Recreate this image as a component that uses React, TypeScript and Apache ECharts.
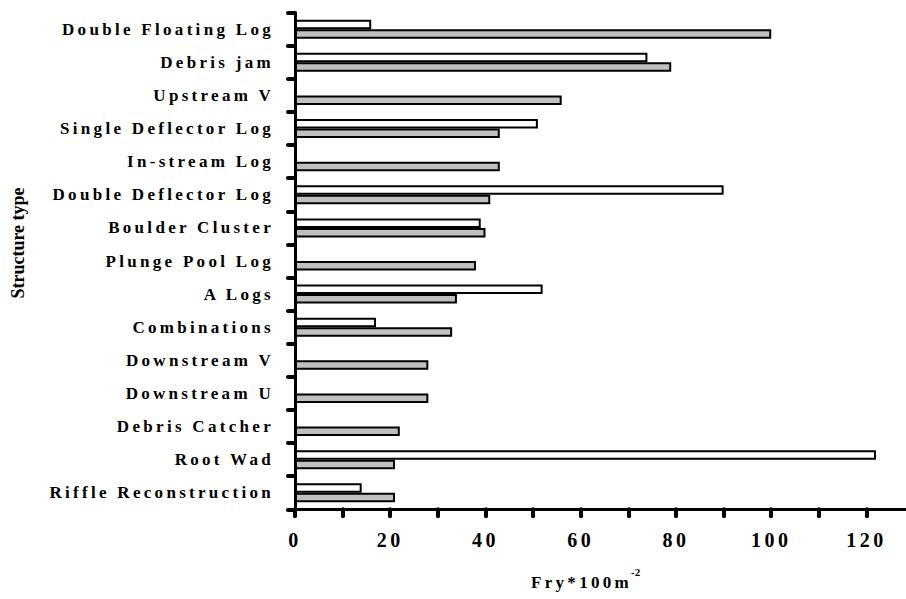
import React, { useEffect, useRef } from "react";
import * as echarts from "echarts";

const categories = [
  "Double Floating Log",
  "Debris jam",
  "Upstream V",
  "Single Deflector Log",
  "In-stream Log",
  "Double Deflector Log",
  "Boulder Cluster",
  "Plunge Pool Log",
  "A Logs",
  "Combinations",
  "Downstream V",
  "Downstream U",
  "Debris Catcher",
  "Root Wad",
  "Riffle Reconstruction",
];

const whiteValues: (number | null)[] = [16, 74, null, 51, null, 90, 39, null, 52, 17, null, null, null, 122, 14];
const greyValues: (number | null)[] = [100, 79, 56, 43, 43, 41, 40, 38, 34, 33, 28, 28, 22, 21, 21];

const xTickLabels = [0, 20, 40, 60, 80, 100, 120];

const FONT = "Liberation Serif";

export default function App() {
  const ref = useRef<HTMLDivElement>(null);
  useEffect(() => {
    if (!ref.current) return;
    const chart = echarts.init(ref.current, null, { renderer: "svg" });
    const option: any = {
      animation: false,
      backgroundColor: "#ffffff",
      grid: { left: 295, top: 12.7, width: 611, height: 496.6, containLabel: false },
      xAxis: {
        type: "value",
        min: 0,
        max: 128.3,
        interval: 10,
        axisLine: { show: true, lineStyle: { color: "#000", width: 3, cap: "round" } },
        axisTick: { show: true, length: 7, lineStyle: { color: "#000", width: 4, cap: "round" } },
        splitLine: { show: false },
        axisLabel: {
          margin: 21,
          color: "#000",
          fontFamily: FONT,
          fontWeight: "bold",
          fontSize: 20,
          showMaxLabel: false,
          formatter: (v: number) => (xTickLabels.indexOf(v) >= 0 ? String(v) : ""),
        },
      },
      yAxis: {
        type: "category",
        inverse: true,
        data: categories,
        axisLine: { show: true, lineStyle: { color: "#000", width: 3, cap: "round" } },
        axisTick: { show: true, length: 7, lineStyle: { color: "#000", width: 4, cap: "round" } },
        axisLabel: {
          margin: 21,
          color: "#000",
          fontFamily: FONT,
          fontWeight: "bold",
          fontSize: 17,
        },
      },
      graphic: [
        {
          type: "text",
          x: 18,
          y: 243,
          rotation: Math.PI / 2,
          style: {
            text: "Structure type",
            fill: "#000",
            fontFamily: FONT,
            fontWeight: "bold",
            fontSize: 18,
            align: "center",
            verticalAlign: "middle",
          },
        },
        {
          type: "text",
          x: 531,
          y: 582,
          style: {
            text: "Fry*100m",
            fill: "#000",
            fontFamily: FONT,
            fontWeight: "bold",
            fontSize: 17,
            align: "left",
            verticalAlign: "middle",
          },
        },
        {
          type: "text",
          x: 631,
          y: 572,
          style: {
            text: "-2",
            fill: "#000",
            fontFamily: FONT,
            fontWeight: "bold",
            fontSize: 11,
            align: "left",
            verticalAlign: "middle",
          },
        },
      ],
      series: [
        {
          type: "bar",
          name: "white",
          data: whiteValues,
          barWidth: 9.5,
          barGap: "0%",
          itemStyle: { color: "#ffffff", borderColor: "#000", borderWidth: 2 },
        },
        {
          type: "bar",
          name: "grey",
          data: greyValues,
          barWidth: 9.5,
          barGap: "0%",
          itemStyle: { color: "#c0c0c0", borderColor: "#000", borderWidth: 2 },
        },
      ],
    };
    chart.setOption(option);
    const svg = ref.current.querySelector("svg");
    if (svg) {
      svg.querySelectorAll("text").forEach((t) => {
        const s = (t.textContent || "").trim();
        if (s === "Structure type" || s === "-2") return;
        if (/^\d+$/.test(s)) t.setAttribute("letter-spacing", "3.5");
        else t.setAttribute("letter-spacing", "3.3");
      });
    }
    return () => chart.dispose();
  }, []);
  return (
    <div
      ref={ref}
      style={{ position: "fixed", left: 0, top: 0, width: 906, height: 599, background: "#fff" }}
    />
  );
}
